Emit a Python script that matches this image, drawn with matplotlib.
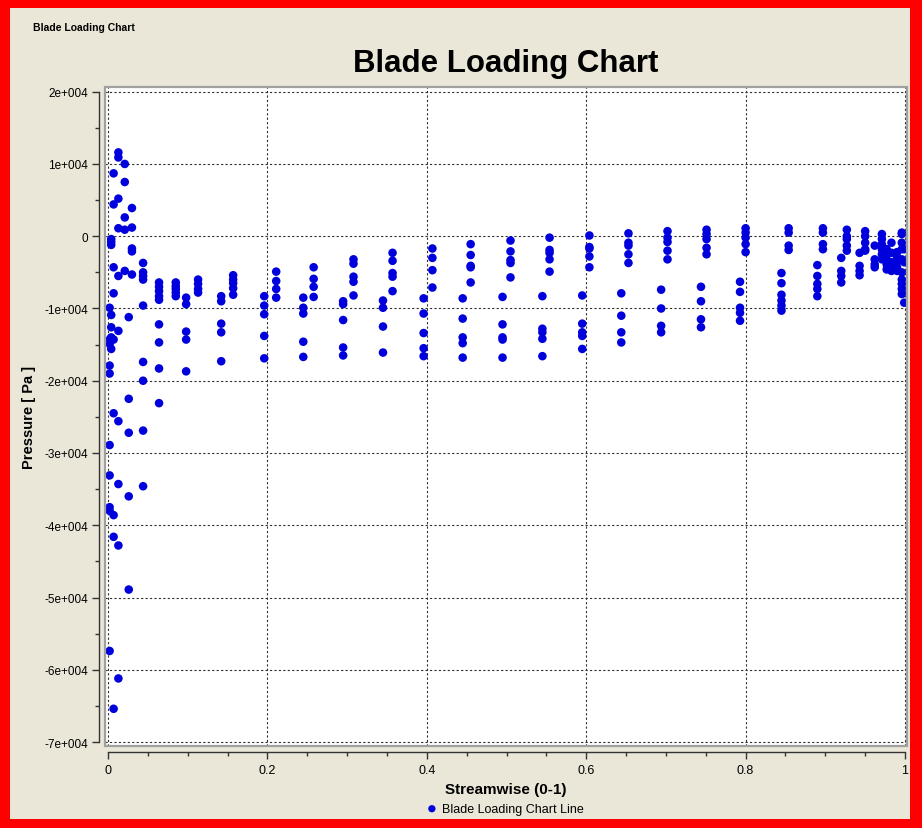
import numpy as np
import matplotlib
matplotlib.use('Agg')
from matplotlib import pyplot as plt
from matplotlib.patches import Rectangle
from matplotlib.ticker import FuncFormatter, MultipleLocator

plt.rcParams['font.family'] = ['Liberation Sans', 'DejaVu Sans']

# streamwise stations (0-1) and the pressures read at each one [Pa]
stations = [0.002, 0.004, 0.007, 0.013, 0.021, 0.026, 0.030, 0.044, 0.064, 0.085,
            0.098, 0.113, 0.142, 0.157, 0.196, 0.211, 0.245, 0.258, 0.295, 0.308,
            0.345, 0.357, 0.396, 0.407, 0.445, 0.455, 0.495, 0.505, 0.545, 0.554,
            0.595, 0.604, 0.644, 0.653, 0.694, 0.702, 0.744, 0.751, 0.793, 0.800,
            0.845, 0.854, 0.890, 0.897, 0.920, 0.927, 0.943, 0.950, 0.962, 0.971,
            0.977, 0.983, 0.990, 0.996, 0.999]

pressure = [
    [-9900, -14300, -14900, -17900, -19000, -28900, -33100, -37500, -38000, -57400],
    [-400, -800, -1200, -10900, -12600, -15600, -14000],
    [8700, 4400, -4300, -7900, -14300, -24500, -38600, -41600, -65400],
    [11600, 10900, 5200, 1100, -5500, -13100, -25600, -34300, -42800, -61200],
    [10000, 7500, 2600, 900, -4800],
    [-11200, -22500, -27200, -36000, -48900],
    [3900, 1200, -1700, -2100, -5300],
    [-3700, -5000, -5500, -6000, -9600, -17400, -20000, -26900, -34600],
    [-6400, -7000, -7600, -8300, -8800, -12200, -14700, -18300, -23100],
    [-6400, -6900, -7300, -7800, -8300],
    [-8500, -9400, -13200, -14300, -18700],
    [-6000, -6600, -7300, -7800],
    [-8300, -9000, -12100, -13300, -17300],
    [-5400, -6000, -6500, -7200, -8100],
    [-8300, -9600, -10800, -13800, -16900],
    [-4900, -6200, -7300, -8500],
    [-8500, -9900, -10700, -14600, -16700],
    [-4300, -5900, -7000, -8400],
    [-9000, -9400, -11600, -15400, -16500],
    [-3200, -3800, -5600, -6300, -8200],
    [-8900, -9900, -12500, -16100],
    [-2300, -3400, -5100, -5600, -7600],
    [-8600, -10700, -13400, -15500, -16600],
    [-1700, -3000, -4700, -7100],
    [-8600, -11400, -14000, -14800, -16800],
    [-1100, -2600, -4100, -4300, -6400],
    [-8400, -12200, -14000, -14300, -16800],
    [-600, -2100, -3300, -3700, -5700],
    [-8300, -12800, -13300, -14200, -16600],
    [-200, -1900, -2300, -3200, -4900],
    [-8200, -12100, -13300, -13800, -15600],
    [100, -1500, -1700, -2800, -4300],
    [-7900, -11000, -13300, -14700],
    [400, -900, -1300, -2500, -3700],
    [-7400, -10000, -12400, -13300],
    [700, -200, -800, -2000, -3200],
    [-7000, -9000, -11500, -12600],
    [900, 300, -400, -1600, -2500],
    [-6300, -7700, -9900, -10600, -11700],
    [1100, 500, -200, -1100, -2200],
    [-5100, -6500, -8100, -8900, -9600, -10300],
    [1100, 500, -1300, -1900],
    [-4000, -5500, -6600, -7300, -8300],
    [1100, 500, -1100, -1800],
    [-3000, -4800, -5500, -6400],
    [900, 0, -400, -1300, -2000],
    [-2300, -4100, -4800, -5400],
    [700, 0, -900, -1800, -2000],
    [-1300, -3200, -3900, -4300],
    [300, -400, -1100, -1800, -2500, -3200],
    [-1800, -2500, -3200, -3900, -4600],
    [-900, -2300, -3600, -4300, -4800],
    [-2200, -2900, -3600, -4300, -4800],
    [500, 300, -900, -1800, -3200, -5000, -6000, -6600, -7300, -8000],
    [-1800, -3600, -9200],
]

x = np.concatenate([[s] * len(p) for s, p in zip(stations, pressure)])
y = np.concatenate(pressure)

W, H = 922, 829
fig = plt.figure(figsize=(W / 100, H / 100), dpi=100, facecolor='red')
# beige panel inside the red frame
fig.patches.append(Rectangle((10 / W, 9 / H), (910 - 10) / W, (820 - 9) / H,
                             transform=fig.transFigure, facecolor='#EAE7D9',
                             edgecolor='none', zorder=-5))

ax = fig.add_axes([105 / W, (H - 747) / H, 802 / W, (747 - 88) / H])
ax.set_zorder(2)
ax.set_facecolor('white')
ax.scatter(x, y, s=38, color='#0000DC', edgecolors='none', zorder=3,
           label='Blade Loading Chart Line')

ax.set_xlim(-0.0038, 1.0025)
ax.set_ylim(-70550, 20650)

ax.xaxis.set_major_locator(MultipleLocator(0.2))
ax.xaxis.set_minor_locator(MultipleLocator(0.05))
ax.yaxis.set_major_locator(MultipleLocator(10000))
ax.yaxis.set_minor_locator(MultipleLocator(5000))
ax.xaxis.set_major_formatter(FuncFormatter(lambda v, p: '%g' % round(v, 2)))
ax.yaxis.set_major_formatter(FuncFormatter(
    lambda v, p: '0' if abs(v) < 1 else '%de+004' % round(v / 1e4)))

ax.grid(True, which='major', color='#303030', linestyle=(0, (2, 2)), linewidth=0.8)

for side in ['top', 'right']:
    ax.spines[side].set_visible(False)
ax.spines['left'].set_position(('outward', 4))
ax.spines['bottom'].set_position(('outward', 4))
ax.spines['left'].set_bounds(-70000, 20000)
ax.spines['bottom'].set_bounds(0, 1)
for side in ['left', 'bottom']:
    ax.spines[side].set_color('#333333')
    ax.spines[side].set_linewidth(1.0)
ax.tick_params(which='major', length=5, width=1, color='#333333', labelsize=8.5, pad=3)
ax.tick_params(which='minor', length=3, width=1, color='#333333')
ax.tick_params(axis='x', pad=4, labelsize=9)

# sunken frame around the plot area
ax.add_patch(Rectangle((0, 0), 1, 1, transform=ax.transAxes, fill=False,
                       edgecolor='#A0A0A0', linewidth=1.6, clip_on=False, zorder=4))

ax.set_xlabel('Streamwise (0-1)', fontsize=11, fontweight='bold', labelpad=4)
ax.set_ylabel('Pressure [ Pa ]', fontsize=10.5, fontweight='bold', labelpad=6)

fig.text(506 / W, 1 - 64 / H, 'Blade Loading Chart', fontsize=22.5, fontweight='bold',
         ha='center', va='center')
fig.text(33 / W, 1 - 28 / H, 'Blade Loading Chart', fontsize=7.5, fontweight='bold',
         ha='left', va='center')

fig.legend(loc='center', bbox_to_anchor=(504 / W, 1 - 810 / H), frameon=False,
           fontsize=9, handletextpad=0.2, handlelength=1.2, markerscale=0.85)

plt.savefig('out.png', dpi=100, facecolor=fig.get_facecolor())
